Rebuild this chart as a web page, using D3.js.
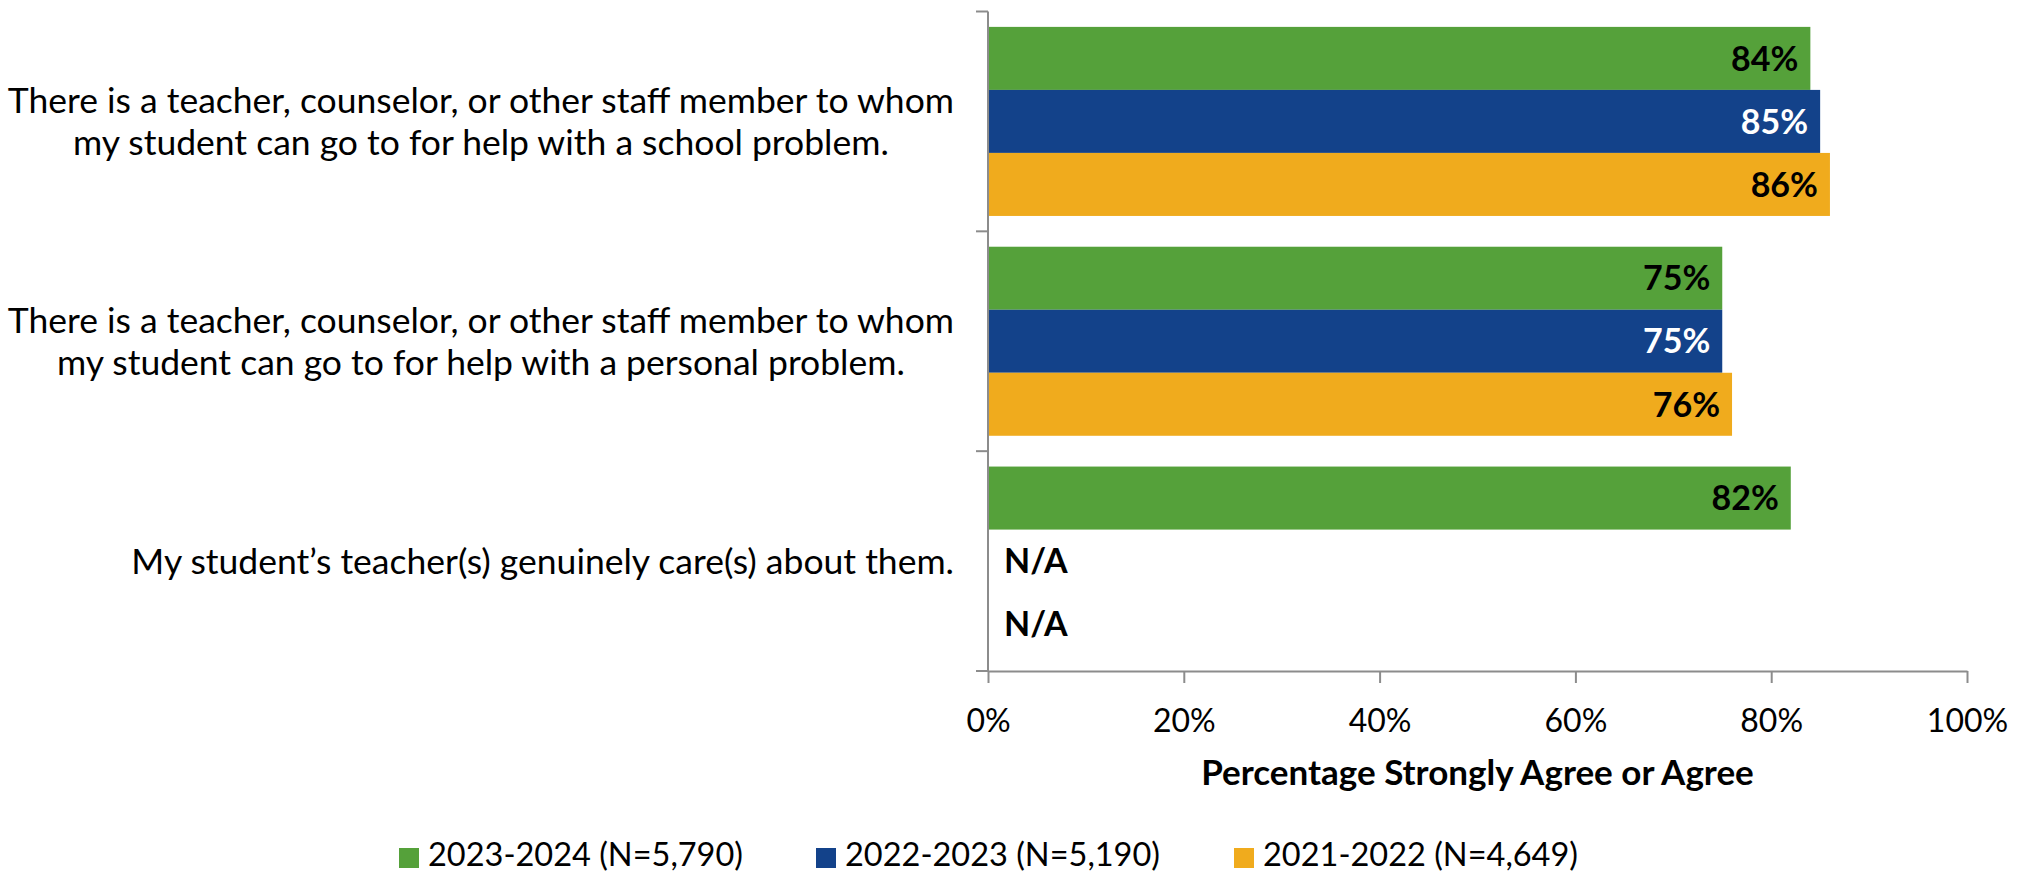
<!DOCTYPE html>
<html lang="en">
<head>
    <meta charset="UTF-8">
    <title>Staff support chart</title>
    <script src="https://d3js.org/d3.v7.min.js"></script>
    <style>
        body { margin: 0; background: #fff; }
        text { font-family: Lato, "Open Sans", sans-serif; }
    </style>
</head>
<body>
    <div id="chart"></div>
    <script>
        // categories (each split into the lines shown in the picture)
        var categories = [
            ["There is a teacher, counselor, or other staff member to whom", "my student can go to for help with a school problem."],
            ["There is a teacher, counselor, or other staff member to whom", "my student can go to for help with a personal problem."],
            ["My student\u2019s teacher(s) genuinely care(s) about them."]
        ];
        var seriesNames = ["2023-2024 (N=5,790)", "2022-2023 (N=5,190)", "2021-2022 (N=4,649)"];
        var values2324 = [84, 75, 82];
        var values2223 = [85, 75, null];
        var values2122 = [86, 76, null];
        var tickValues = [0, 20, 40, 60, 80, 100];
        var axisTitle = "Percentage Strongly Agree or Agree";

        var colors = ["#55a13a", "#13428a", "#f0ab1d"];
        var labelColors = ["#000", "#fff", "#000"];
        var allValues = [values2324, values2223, values2122];

        var W = 2028, H = 875;
        var plot = {x0: 988, x1: 1967, y0: 11.5, y1: 671};

        var svg = d3.select("#chart").append("svg")
            .attr("width", W)
            .attr("height", H);

        var ids = categories.map(function(c, i) { return i; });
        var y = d3.scaleBand().domain(ids).range([plot.y0, plot.y1]);
        var x = d3.scaleLinear().domain([0, 100]).range([plot.x0, plot.x1]);
        var pad = y.bandwidth() * 0.07;
        var inner = d3.scaleBand().domain([0, 1, 2]).range([pad, y.bandwidth() - pad]);

        // bars
        var rows = [];
        ids.forEach(function(ci) {
            allValues.forEach(function(vals, si) {
                rows.push({cat: ci, s: si, v: vals[ci]});
            });
        });

        svg.selectAll("rect.bar")
            .data(rows.filter(function(d) { return d.v != null; }))
            .enter()
            .append("rect")
            .attr("class", "bar")
            .attr("x", x(0))
            .attr("y", function(d) { return y(d.cat) + inner(d.s); })
            .attr("width", function(d) { return x(d.v) - x(0); })
            .attr("height", inner.bandwidth())
            .attr("fill", function(d) { return colors[d.s]; });

        // value labels
        svg.selectAll("text.val")
            .data(rows)
            .enter()
            .append("text")
            .attr("class", "val")
            .attr("x", function(d) { return d.v != null ? x(d.v) - 12 : x(0) + 16; })
            .attr("y", function(d) { return y(d.cat) + inner(d.s) + inner.bandwidth() / 2; })
            .attr("dy", "0.36em")
            .attr("text-anchor", function(d) { return d.v != null ? "end" : "start"; })
            .attr("font-size", "34px")
            .attr("font-weight", "bold")
            .attr("fill", function(d) { return d.v != null ? labelColors[d.s] : "#000"; })
            .text(function(d) { return d.v != null ? d.v + "%" : "N/A"; });

        // y axis (ticks at the band edges)
        var axisColor = "#8c8c8c";
        var edges = ids.map(function(i) { return y(i); }).concat([plot.y1]);
        svg.append("line")
            .attr("x1", plot.x0).attr("x2", plot.x0)
            .attr("y1", plot.y0).attr("y2", plot.y1)
            .attr("stroke", axisColor).attr("stroke-width", 2);
        svg.selectAll("line.ytick")
            .data(edges)
            .enter()
            .append("line")
            .attr("class", "ytick")
            .attr("x1", plot.x0 - 12).attr("x2", plot.x0)
            .attr("y1", function(d) { return d; })
            .attr("y2", function(d) { return d; })
            .attr("stroke", axisColor).attr("stroke-width", 2);

        // category labels: lines centred in a right-aligned block
        var catG = svg.append("g");
        ids.forEach(function(ci) {
            var lines = categories[ci];
            var lh = 42;
            var cy = y(ci) + y.bandwidth() / 2;
            var t = catG.append("text")
                .attr("font-size", "35.5px")
                .attr("fill", "#000")
                .attr("text-anchor", "middle");
            lines.forEach(function(line, li) {
                t.append("tspan")
                    .attr("x", 0)
                    .attr("y", cy + (li - (lines.length - 1) / 2) * lh)
                    .attr("dy", "0.36em")
                    .text(line);
            });
            var w = t.node().getBBox().width;
            t.selectAll("tspan").attr("x", 954 - w / 2);
        });

        // x axis
        var xAxis = svg.append("g")
            .attr("transform", "translate(0," + plot.y1 + ")")
            .call(d3.axisBottom(x)
                .tickValues(tickValues)
                .tickSize(12)
                .tickSizeOuter(0)
                .tickPadding(26)
                .tickFormat(function(d) { return d + "%"; }));
        xAxis.select(".domain").attr("stroke", axisColor).attr("stroke-width", 2);
        xAxis.selectAll(".tick line").attr("stroke", axisColor).attr("stroke-width", 2);
        xAxis.selectAll(".tick text")
            .attr("font-size", "32px")
            .attr("font-family", "Lato, sans-serif")
            .attr("fill", "#000");

        svg.append("text")
            .attr("x", (plot.x0 + plot.x1) / 2)
            .attr("y", 785)
            .attr("text-anchor", "middle")
            .attr("font-size", "35px")
            .attr("font-weight", "bold")
            .text(axisTitle);

        // legend
        var legendX = [399, 816, 1234];
        var legend = svg.selectAll("g.leg")
            .data(seriesNames)
            .enter()
            .append("g")
            .attr("class", "leg")
            .attr("transform", function(d, i) { return "translate(" + legendX[i] + ",848)"; });
        legend.append("rect")
            .attr("width", 20).attr("height", 20)
            .attr("fill", function(d, i) { return colors[i]; });
        legend.append("text")
            .attr("x", 29)
            .attr("y", 18)
            .attr("font-size", "32.5px")
            .text(function(d) { return d; });
    </script>
</body>
</html>
